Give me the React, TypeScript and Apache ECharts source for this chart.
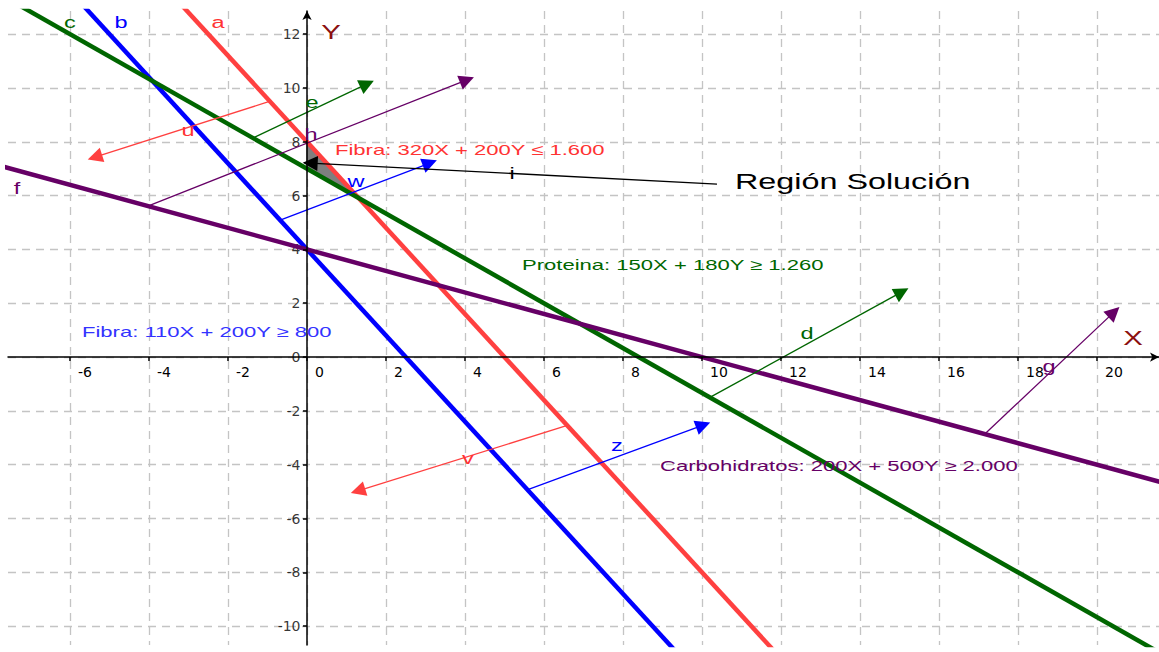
import React, { useEffect, useRef } from "react";
import * as echarts from "echarts";

// Axis ranges and ticks
const xRange = [-7.57, 21.57];
const yRange = [-10.7, 12.86];
const xTicks = [-6, -4, -2, 0, 2, 4, 6, 8, 10, 12, 14, 16, 18, 20];
const yTicks = [-10, -8, -6, -4, -2, 0, 2, 4, 6, 8, 10, 12];

// Constraint lines (two endpoints each, clipped by the axes)
const lineA = [[-4, 14.4], [12, -11.2]]; // red
const lineB = [[-6, 13.6], [10, -12]]; // blue
const lineC = [[-8, 13.667], [22, -11.333]]; // green
const lineF = [[-8, 7.2], [22, -4.8]]; // purple

// Solution region (triangle)
const region = [[0, 8], [0, 7], [1.3, 5.91]];

// Vectors: [from, to]
const vecU = [[-0.95, 9.5], [-5.37, 7.43]];
const vecV = [[6.57, -2.55], [1.29, -4.97]];
const vecE = [[-1.37, 8.14], [1.52, 10.15]];
const vecH = [[-4.03, 5.61], [4.05, 10.3]];
const vecW = [[-0.68, 5.09], [3.11, 7.21]];
const vecZ = [[5.59, -4.93], [10.03, -2.53]];
const vecD = [[10.2, -1.5], [15.06, 2.42]];
const vecG = [[17.16, -2.86], [20.43, 1.67]];
const vecI = [[10.38, 6.43], [0.08, 7.21]];

const RED = "#ff4040";
const BLUE = "#0000ff";
const GREEN = "#006600";
const PURPLE = "#660066";
const BLACK = "#000000";

const vectors = [
  { name: "u", pts: vecU, color: RED },
  { name: "v", pts: vecV, color: RED },
  { name: "e", pts: vecE, color: GREEN },
  { name: "h", pts: vecH, color: PURPLE },
  { name: "w", pts: vecW, color: BLUE },
  { name: "z", pts: vecZ, color: BLUE },
  { name: "d", pts: vecD, color: GREEN },
  { name: "g", pts: vecG, color: PURPLE },
  { name: "i", pts: vecI, color: BLACK },
];

const constraintLines = [
  { name: "a", pts: lineA, color: RED },
  { name: "b", pts: lineB, color: BLUE },
  { name: "c", pts: lineC, color: GREEN },
  { name: "f", pts: lineF, color: PURPLE },
];

// Annotation texts: [text, x(px), y(px), color, size, align]
const annotations: [string, number, number, string, number, string][] = [
  ["Fibra: 320X + 200Y ≤ 1.600", 335, 150, "#ff3333", 15, "left"],
  ["Proteina: 150X + 180Y ≥ 1.260", 522, 265, GREEN, 15, "left"],
  ["Fibra: 110X + 200Y ≥ 800", 82, 332, "#3333ff", 15, "left"],
  ["Carbohidratos: 200X + 500Y ≥ 2.000", 660, 466, PURPLE, 15, "left"],
  ["Región Solución", 735, 181, BLACK, 22, "left"],
  ["a", 218, 22, "#ff3333", 16, "center"],
  ["b", 121, 22, BLUE, 16, "center"],
  ["c", 70, 22, GREEN, 16, "center"],
  ["f", 17, 188, PURPLE, 16, "center"],
  ["u", 188, 130, "#ff3333", 16, "center"],
  ["v", 468, 458, "#ff3333", 16, "center"],
  ["e", 312, 102, GREEN, 16, "center"],
  ["h", 311, 134, PURPLE, 16, "center"],
  ["w", 356, 181, BLUE, 16, "center"],
  ["z", 617, 445, BLUE, 16, "center"],
  ["d", 807, 333, GREEN, 16, "center"],
  ["g", 1049, 366, PURPLE, 16, "center"],
  ["i", 512, 173, BLACK, 16, "center"],
  ["X", 1133, 338, "#8b0f0f", 20, "center"],
  ["Y", 331, 32, "#8b0f0f", 20, "center"],
];

const STRETCH = 1.47;
const FONT = "'Liberation Sans', Arial, sans-serif";
const TICK_FONT = "'DejaVu Sans', sans-serif";

const W = 1159;
const H = 652;
const G_LEFT = 8;
const G_TOP = 11;
const G_RIGHT = 0;
const G_BOTTOM = 7;

export default function App() {
  const ref = useRef<HTMLDivElement>(null);
  useEffect(() => {
    if (!ref.current) return;
    const chart = echarts.init(ref.current, undefined, { renderer: "svg" });
    const gw = W - G_LEFT - G_RIGHT;
    const gh = H - G_TOP - G_BOTTOM;
    // place axes through the origin
    const xAxisOffset = -((0 - yRange[0]) / (yRange[1] - yRange[0])) * gh;
    const yAxisOffset = -((0 - xRange[0]) / (xRange[1] - xRange[0])) * gw;
    const gridLine = { show: true, lineStyle: { color: "#c4c4c4", type: [8, 6], width: 1.3 } };
    const series: any[] = [];
    series.push({
      type: "custom",
      z: 1,
      data: [region[0]],
      renderItem: (params: any, api: any) => {
        const pts = region.map((p) => api.coord(p));
        return {
          type: "polygon",
          shape: { points: pts },
          style: { fill: "#7f7f7f", stroke: "#505050", lineWidth: 1 },
        };
      },
    });
    // y tick labels, placed left of the y axis at each tick value
    series.push({
      type: "scatter",
      name: "yLabels",
      z: 2,
      silent: true,
      symbol: "circle",
      symbolSize: 1,
      itemStyle: { color: "rgba(0,0,0,0)" },
      data: yTicks.map((v) => [0, v]),
      label: {
        show: true,
        position: "left",
        distance: 6,
        formatter: (p: any) => String(p.value[1]),
        color: "#000",
        fontSize: 14,
        fontFamily: TICK_FONT,
      },
      labelLayout: { hideOverlap: false },
    });
    constraintLines.forEach((l) => {
      series.push({
        type: "line",
        name: l.name,
        data: l.pts,
        showSymbol: false,
        symbol: "none",
        z: 3,
        lineStyle: { color: l.color, width: 4.5 },
        itemStyle: { color: l.color },
        silent: true,
      });
    });
    vectors.forEach((v) => {
      series.push({
        type: "lines",
        name: v.name,
        coordinateSystem: "cartesian2d",
        z: 4,
        symbol: ["none", "triangle"],
        symbolSize: [9, 15],
        lineStyle: { color: v.color, width: 1.3, opacity: 1 },
        data: [{ coords: v.pts, lineStyle: { color: v.color } }],
      });
    });
    chart.setOption({
      animation: false,
      backgroundColor: "#ffffff",
      grid: {
        left: G_LEFT,
        top: G_TOP,
        right: G_RIGHT,
        bottom: G_BOTTOM,
        containLabel: false,
        outerBoundsMode: "none",
      },
      xAxis: [
        {
          type: "value",
          min: xRange[0],
          max: xRange[1],
          axisLine: { show: false },
          axisTick: { show: false, customValues: xTicks },
          axisLabel: { show: false, customValues: xTicks },
          splitLine: { ...gridLine },
        },
        {
          type: "value",
          min: xRange[0],
          max: xRange[1],
          position: "bottom",
          offset: xAxisOffset,
          z: 5,
          axisLine: {
            onZero: false,
            lineStyle: { color: "#000", width: 1.5 },
            symbol: ["none", "arrow"],
            symbolSize: [7, 9],
          },
          axisTick: { show: true, length: 4, customValues: xTicks, lineStyle: { color: "#000", width: 1.5 } },
          axisLabel: {
            customValues: xTicks,
            align: "left",
            padding: [0, 0, 0, 8],
            margin: 8,
            hideOverlap: false,
            color: "#000",
            fontSize: 14,
            fontFamily: TICK_FONT,
          },
          splitLine: { show: false },
        },
      ],
      yAxis: [
        {
          type: "value",
          min: yRange[0],
          max: yRange[1],
          axisLine: { show: false },
          axisTick: { show: false, customValues: yTicks },
          axisLabel: { show: false, customValues: yTicks },
          splitLine: { ...gridLine },
        },
        {
          type: "value",
          min: yRange[0],
          max: yRange[1],
          position: "left",
          offset: yAxisOffset,
          z: 5,
          axisLine: {
            onZero: false,
            lineStyle: { color: "#000", width: 1.5 },
            symbol: ["none", "arrow"],
            symbolSize: [7, 9],
          },
          axisTick: { show: true, length: 4, customValues: yTicks, lineStyle: { color: "#000", width: 1.5 } },
          axisLabel: { show: false },
          splitLine: { show: false },
        },
      ],
      series,
      graphic: annotations.map(([text, x, y, color, size, align]) => ({
        type: "text",
        x,
        y,
        scaleX: STRETCH,
        z: 10,
        style: {
          text,
          fill: color,
          fontSize: size,
          fontFamily: FONT,
          textAlign: align,
          textVerticalAlign: "middle",
          align,
          verticalAlign: "middle",
        },
      })),
    });
    return () => chart.dispose();
  }, []);
  return (
    <div
      ref={ref}
      style={{ position: "fixed", left: 0, top: 0, width: W, height: H, background: "#fff" }}
    />
  );
}
